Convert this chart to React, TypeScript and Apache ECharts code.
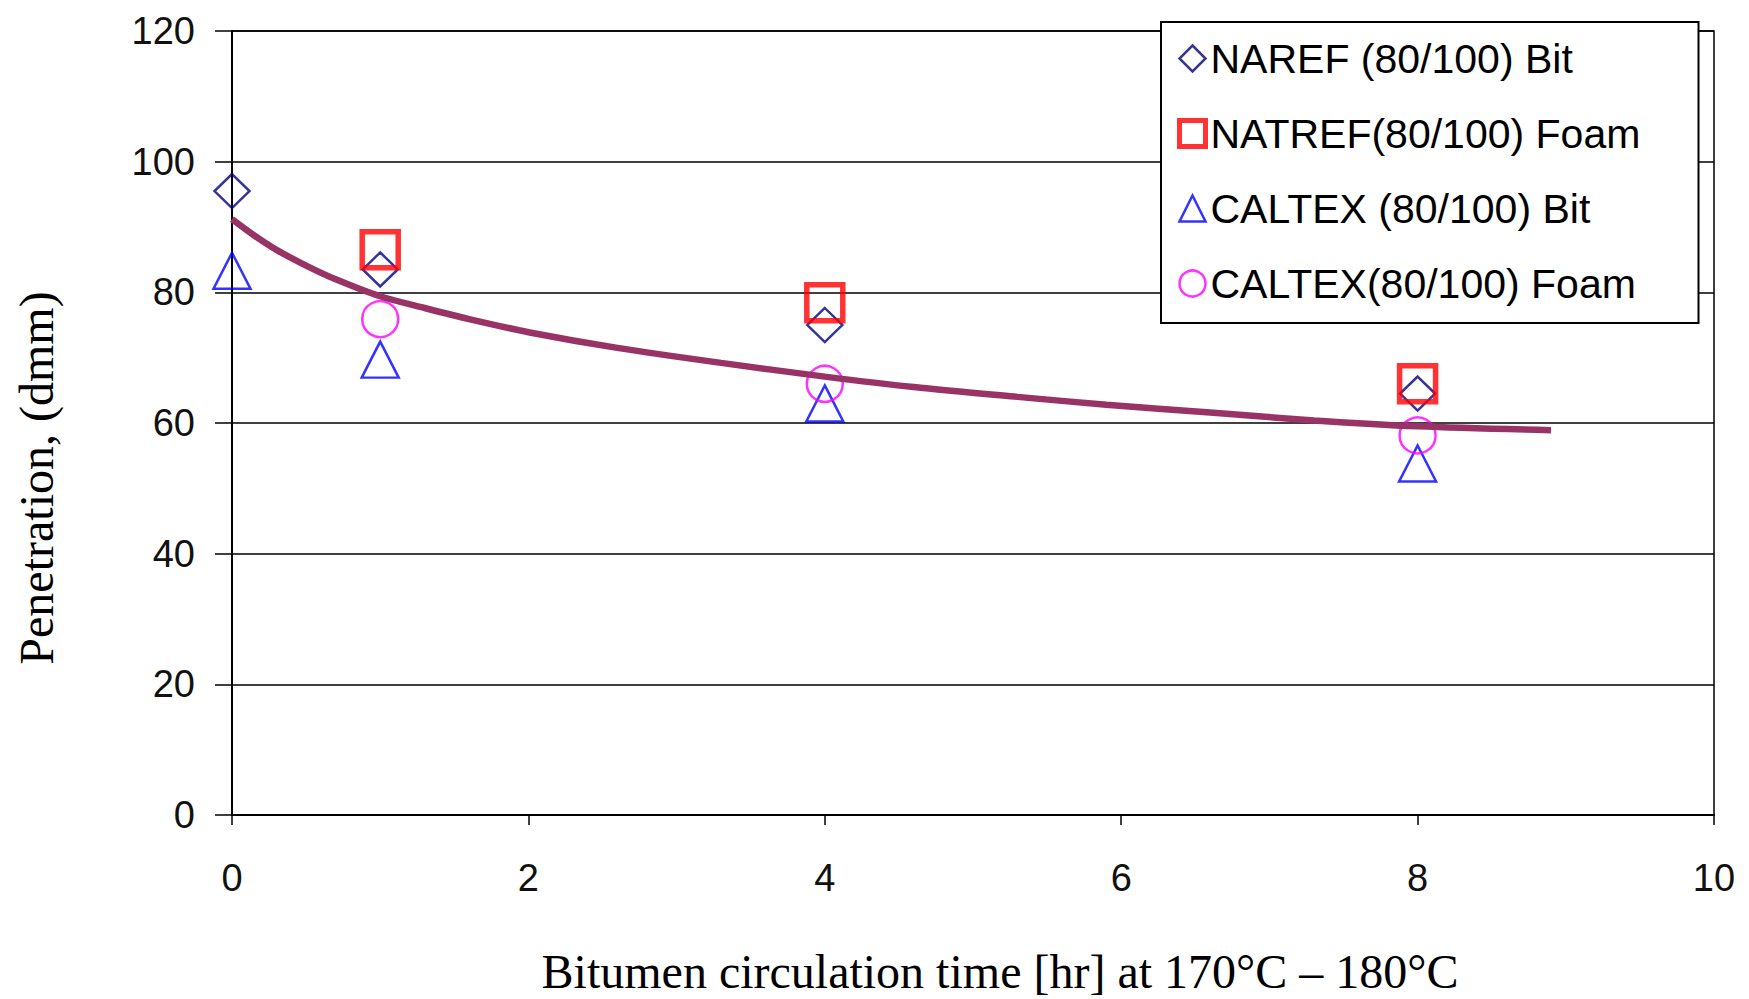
import React, { useEffect, useRef } from "react";
import * as echarts from "echarts";

// ---- data ----
const naBitX = [0, 1, 4, 8];
const naBitY = [95.5, 83.5, 75.0, 64.5];
const naFoamX = [1, 4, 8];
const naFoamY = [86.5, 78.4, 66.0];
const caBitX = [0, 1, 4, 8];
const caBitY = [83.3, 69.7, 63.0, 53.8];
const caFoamX = [1, 4, 8];
const caFoamY = [75.9, 66.0, 58.1];
const trendX = [0, 0.15, 0.3, 0.5, 0.7, 1, 1.3, 1.6, 2, 2.6, 3.3, 4, 4.6, 5.3, 5.9, 6.6, 7.3, 8, 8.9];
const trendY = [91.2, 88.7, 86.5, 84.1, 82.0, 79.4, 77.6, 75.9, 73.9, 71.5, 69.2, 67.1, 65.5, 64.0, 62.8, 61.6, 60.4, 59.5, 58.9];

const seriesNames = [
  "NAREF (80/100) Bit",
  "NATREF(80/100) Foam",
  "CALTEX (80/100) Bit",
  "CALTEX(80/100) Foam",
];
const xTitle = "Bitumen circulation time [hr] at 170°C – 180°C";
const yTitle = "Penetration, (dmm)";

const pairs = (xs: number[], ys: number[]) => xs.map((x, i) => [x, ys[i]]);

export default function App() {
  const ref = useRef<HTMLDivElement>(null);
  useEffect(() => {
    if (!ref.current) return;
    const chart = echarts.init(ref.current, undefined, { renderer: "svg" });
    const sans = "Liberation Sans, Arial, sans-serif";
    const serif = "Liberation Serif, Times New Roman, serif";
    chart.setOption({
      animation: false,
      backgroundColor: "#fff",
      grid: {
        left: 232,
        right: 35,
        top: 31,
        bottom: 184,
        show: true,
        borderColor: "#000",
        borderWidth: 1.5,
        outerBoundsMode: "none",
        containLabel: false,
      },
      xAxis: {
        type: "value",
        min: 0,
        max: 10,
        interval: 2,
        name: xTitle,
        nameLocation: "middle",
        nameGap: 132,
        nameTextStyle: { fontFamily: serif, fontSize: 48, color: "#000", padding: [0, 0, 0, 54] },
        axisLine: { show: true, lineStyle: { color: "#000", width: 2 } },
        axisTick: { show: true, length: 10, lineStyle: { color: "#000", width: 1.5 } },
        axisLabel: { fontFamily: sans, fontSize: 38, color: "#111", margin: 44 },
        splitLine: { show: false },
      },
      yAxis: {
        type: "value",
        min: 0,
        max: 120,
        interval: 20,
        name: yTitle,
        nameLocation: "middle",
        nameGap: 172,
        nameTextStyle: { fontFamily: serif, fontSize: 48, color: "#000", padding: [0, 110, 0, 0] },
        axisLine: { show: true, lineStyle: { color: "#000", width: 2 } },
        axisTick: { show: true, length: 17, lineStyle: { color: "#000", width: 1.5 } },
        axisLabel: { fontFamily: sans, fontSize: 38, color: "#111", margin: 37 },
        splitLine: { show: true, lineStyle: { color: "#000", width: 1.5 } },
      },
      legend: {
        orient: "vertical",
        left: 1161,
        top: 22,
        padding: [16, 14, 19, 16],
        itemGap: 34,
        itemWidth: 26,
        itemHeight: 26,
        itemTextGap: 13,
        backgroundColor: "#fff",
        borderColor: "#000",
        borderWidth: 2,
        textStyle: { fontFamily: sans, fontSize: 41, color: "#000", lineHeight: 40, width: 474 },
        data: [
          { name: seriesNames[0], icon: "diamond", itemStyle: { color: "#fff", borderColor: "#000080", borderWidth: 2.5 } },
          { name: seriesNames[1], icon: "rect", itemStyle: { color: "#fff", borderColor: "#ff0000", borderWidth: 5 } },
          { name: seriesNames[2], icon: "triangle", itemStyle: { color: "#fff", borderColor: "#0000ff", borderWidth: 2.5 } },
          { name: seriesNames[3], icon: "circle", itemStyle: { color: "#fff", borderColor: "#ff00ff", borderWidth: 2.5 } },
        ],
      },
      series: [
        {
          name: seriesNames[0],
          type: "scatter",
          symbol: "diamond",
          symbolSize: [35, 34],
          data: pairs(naBitX, naBitY),
          itemStyle: { color: "rgba(255,255,255,0)", borderColor: "#000080", borderWidth: 2.5 },
        },
        {
          name: seriesNames[1],
          type: "scatter",
          symbol: "rect",
          symbolSize: 36,
          data: pairs(naFoamX, naFoamY),
          itemStyle: { color: "rgba(255,255,255,0)", borderColor: "#ff0000", borderWidth: 5.5 },
        },
        {
          name: seriesNames[2],
          type: "scatter",
          symbol: "triangle",
          symbolSize: [37, 36],
          data: pairs(caBitX, caBitY),
          itemStyle: { color: "rgba(255,255,255,0)", borderColor: "#0000ff", borderWidth: 2.5 },
        },
        {
          name: seriesNames[3],
          type: "scatter",
          symbol: "circle",
          symbolSize: 36,
          data: pairs(caFoamX, caFoamY),
          itemStyle: { color: "rgba(255,255,255,0)", borderColor: "#ff00ff", borderWidth: 2.5 },
        },
        {
          name: "Trend",
          type: "line",
          smooth: 0.3,
          symbol: "none",
          data: pairs(trendX, trendY),
          lineStyle: { color: "#993366", width: 6.5 },
          z: 5,
        },
      ],
    });
    return () => chart.dispose();
  }, []);
  return (
    <div
      ref={ref}
      style={{ position: "fixed", left: 0, top: 0, width: 1749, height: 999, background: "#fff" }}
    />
  );
}
